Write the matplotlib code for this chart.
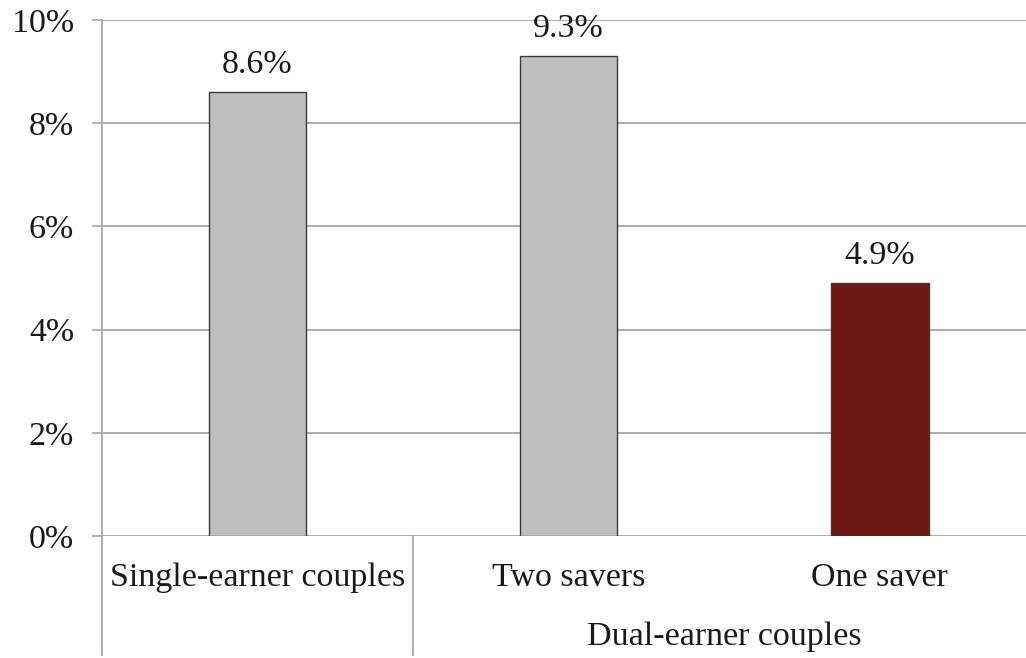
"""
Savings rate by couple type: single-earner vs dual-earner (two savers / one saver).
"""

import matplotlib
matplotlib.use("Agg")
import matplotlib.pyplot as plt
from matplotlib.ticker import FuncFormatter

categories = ["Single-earner couples", "Two savers", "One saver"]
values = [8.6, 9.3, 4.9]
value_labels = ["8.6%", "9.3%", "4.9%"]
group_label = "Dual-earner couples"
yticks = [0, 2, 4, 6, 8, 10]

GRAY = "#bfbfbf"
RED = "#6e1913"
GRID = "#a6a6a6"

plt.rcParams["font.family"] = ["Liberation Serif", "DejaVu Serif"]

fig = plt.figure(figsize=(10.26, 6.58), dpi=100)
ax = fig.add_axes([0.0994, 0.1854, 0.9094, 0.7842])

x = list(range(len(categories)))
colors = [GRAY, GRAY, RED]
bars = ax.bar(x, values, width=0.315, color=colors, edgecolor="#3a3a3a",
              linewidth=1.0, zorder=3)

for b, lab in zip(bars, value_labels):
    ax.annotate(lab, (b.get_x() + b.get_width() / 2, b.get_height()),
                xytext=(0, 9), textcoords="offset points",
                ha="center", va="bottom", fontsize=24.5, color="#1a1a1a")

ax.set_xlim(-0.5, 2.5)
ax.set_ylim(0, 10)
ax.set_yticks(yticks)
ax.yaxis.set_major_formatter(FuncFormatter(lambda v, p: f"{v:.0f}%"))
ax.yaxis.grid(True, color=GRID, linewidth=1.3, zorder=0)
ax.set_xticks([])
ax.tick_params(axis="y", length=7, width=1.2, color=GRID, pad=13,
               labelsize=24.5, labelcolor="#1a1a1a")

for side in ["top", "right", "bottom"]:
    ax.spines[side].set_visible(False)
ax.spines["left"].set_color(GRID)
ax.spines["left"].set_linewidth(1.3)

# category labels and group separators below the axis
trans = ax.get_xaxis_transform()
for xi, cat in zip(x, categories):
    ax.text(xi, -0.0814, cat, transform=trans, ha="center", va="center",
            fontsize=24.5, color="#1a1a1a")
ax.text(1.5, -0.1957, group_label, transform=trans, ha="center",
        va="center", fontsize=24.5, color="#1a1a1a")

for sx in [-0.5, 0.5]:
    ax.plot([sx, sx], [0, -0.2306], transform=trans, color=GRID,
            linewidth=1.3, clip_on=False)

fig.savefig("out.png", dpi=100)
